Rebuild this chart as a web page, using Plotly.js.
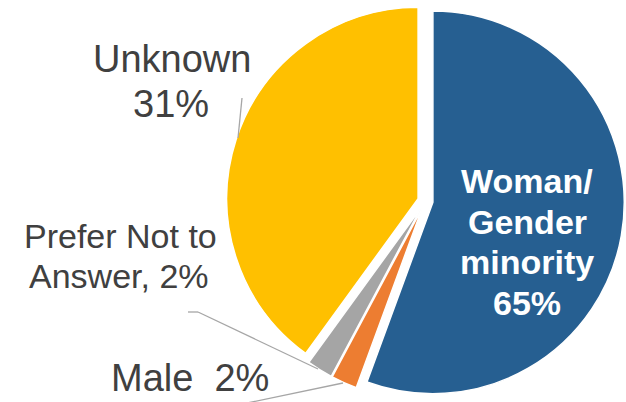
<!DOCTYPE html>
<html>
<head>
<meta charset="utf-8">
<script src="https://cdn.plot.ly/plotly-3.0.1.min.js"></script>
<style>html,body{margin:0;padding:0;background:#fff;}#chart{width:626px;height:402px;}</style>
</head>
<body>
<div id="chart"></div>
<script>
const categories = ["Woman/Gender minority", "Male", "Prefer Not to Answer", "Unknown"];
const values = [55.6, 2.2, 2.2, 40.0];
const labelTexts = ["Woman/<br>Gender<br>minority<br>65%", "Male  2%", "Prefer Not to<br>Answer, 2%", "Unknown<br>31%"];
const colors = ["#265F91", "#ED7D31", "#A5A5A5", "#FFC000"];

const W = 626, H = 402;
const px = x => x / W, py = y => 1 - y / H;

const trace = {
  type: "pie",
  labels: categories,
  values: values,
  sort: false,
  direction: "clockwise",
  rotation: 0,
  pull: [0.04, 0.04, 0.04, 0.04],
  textinfo: "none",
  hoverinfo: "label+percent",
  marker: { colors: colors, line: { color: "#ffffff", width: 1.5 } },
  domain: { x: [0.36, 0.999], y: [0.005, 0.995] },
  showlegend: false
};

const font = "Liberation Sans, Arial, sans-serif";
const grey = "#404040";
// per-label layout: line positions (px), font size, colour, bold
const labelLayout = [
  { xs: [527, 527, 527, 527], ys: [181, 222, 262, 303], size: 34, color: "#ffffff", bold: true },
  { xs: [190], ys: [378], size: 38, color: grey, bold: false },
  { xs: [120, 119], ys: [236, 276], size: 34, color: grey, bold: false },
  { xs: [172, 171], ys: [59, 104], size: 38, color: grey, bold: false }
];
const annotations = [];
labelTexts.forEach((t, i) => {
  const L = labelLayout[i];
  t.split("<br>").forEach((line, j) => {
    annotations.push({
      xref: "paper", yref: "paper", showarrow: false,
      xanchor: "center", yanchor: "middle",
      x: px(L.xs[j]), y: py(L.ys[j]),
      text: L.bold ? "<b>" + line + "</b>" : line,
      font: { family: font, size: L.size, color: L.color }
    });
  });
});

const lineStyle = { color: "#A6A6A6", width: 1.3 };
const shapes = [
  { x0: 242, y0: 98, x1: 238, y1: 138 },
  { x0: 188, y0: 312, x1: 198, y1: 312 },
  { x0: 198, y0: 312, x1: 318, y1: 369 },
  { x0: 247, y0: 403, x1: 343, y1: 383 }
].map(s => ({ type: "line", xref: "paper", yref: "paper", line: lineStyle,
  x0: px(s.x0), y0: py(s.y0), x1: px(s.x1), y1: py(s.y1) }));

Plotly.newPlot("chart", [trace], {
  width: W, height: H,
  margin: { l: 0, r: 0, t: 0, b: 0 },
  paper_bgcolor: "#ffffff",
  annotations: annotations,
  shapes: shapes
}, { displayModeBar: false, staticPlot: true });
</script>
</body>
</html>
